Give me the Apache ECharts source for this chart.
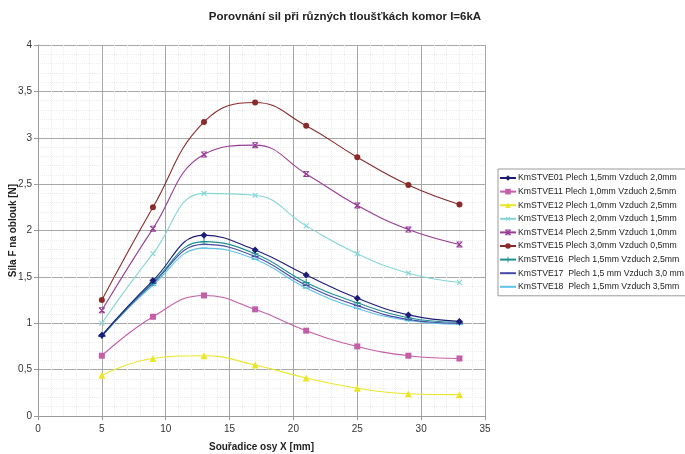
<!DOCTYPE html>
<html>
<head>
<meta charset="utf-8">
<script src="https://cdn.jsdelivr.net/npm/echarts@6/dist/echarts.min.js"></script>
<style>
html,body{margin:0;padding:0;background:#fff;}
#c{width:685px;height:454px;}
</style>
</head>
<body>
<div id="c"></div>
<script>
const xValues = [5, 9, 13, 17, 21, 25, 29, 33];
const seriesNames = [
  'KmSTVE01 Plech 1,5mm Vzduch 2,0mm',
  'KmSTVE11 Plech 1,0mm Vzduch 2,5mm',
  'KmSTVE12 Plech 1,0mm Vzduch 2,5mm',
  'KmSTVE13 Plech 2,0mm Vzduch 1,5mm',
  'KmSTVE14 Plech 2,5mm Vzduch 1,0mm',
  'KmSTVE15 Plech 3,0mm Vzduch 0,5mm',
  'KmSTVE16  Plech 1,5mm Vzduch 2,5mm',
  'KmSTVE17  Plech 1,5 mm Vzduch 3,0 mm',
  'KmSTVE18  Plech 1,5mm Vzduch 3,5mm'
];
const s01 = [0.87, 1.46, 1.95, 1.79, 1.52, 1.27, 1.09, 1.02];
const s11 = [0.65, 1.07, 1.30, 1.15, 0.92, 0.75, 0.65, 0.62];
const s12 = [0.44, 0.62, 0.65, 0.55, 0.41, 0.30, 0.24, 0.23];
const s13 = [1.00, 1.75, 2.40, 2.38, 2.05, 1.75, 1.54, 1.44];
const s14 = [1.14, 2.02, 2.82, 2.92, 2.61, 2.27, 2.01, 1.85];
const s15 = [1.25, 2.25, 3.17, 3.38, 3.13, 2.79, 2.49, 2.28];
const s16 = [0.87, 1.44, 1.88, 1.75, 1.44, 1.22, 1.06, 1.01];
const s17 = [0.86, 1.43, 1.85, 1.72, 1.41, 1.19, 1.04, 1.00];
const s18 = [0.86, 1.41, 1.81, 1.69, 1.38, 1.16, 1.03, 0.99];
const seriesValues = [s01, s11, s12, s13, s14, s15, s16, s17, s18];
const yTicks = [0, 0.5, 1, 1.5, 2, 2.5, 3, 3.5, 4];
const xTicks = [0, 5, 10, 15, 20, 25, 30, 35];

const colors = ['#1c1c78', '#c45ea8', '#ece62a', '#86d6d6', '#973c97', '#8b2a2a', '#1e9090', '#4a4aa8', '#5ec2e6'];
const plusPath = 'path://M4.2,0H5.8V4.2H10V5.8H5.8V10H4.2V5.8H0V4.2H4.2Z';
const starPath = 'path://M0,0H10V1.4H0Z M0,8.6H10V10H0Z M0,0L1.5,0L10,8.5L10,10L8.5,10L0,1.5Z M10,0L10,1.5L1.5,10L0,10L0,8.5L8.5,0Z';
const dashPath = 'path://M0,0h0.01v0.01h-0.01Z M0,4H10V6H0Z M9.99,9.99h0.01v0.01h-0.01Z';
const symbols = ['diamond', 'rect', 'triangle', plusPath, starPath, 'circle', plusPath, dashPath, dashPath];
const symbolSizes = [7, 6, 7, 7, 6, 6, 7, 7, 7];
const symbolRot = [0, 0, 0, 45, 0, 0, 0, 0, 0];

const chart = echarts.init(document.getElementById('c'), null, {renderer: 'canvas'});
const fmt = v => String(v).replace('.', ',');
const FONT = 'Liberation Sans, Arial, sans-serif';

const series = seriesNames.map((name, i) => ({
  name: name,
  type: 'line',
  smooth: 0.45,
  data: xValues.map((x, j) => [x, seriesValues[i][j]]),
  symbol: symbols[i],
  symbolSize: symbolSizes[i],
  symbolRotate: symbolRot[i],
  showAllSymbol: true,
  lineStyle: {color: colors[i], width: 1.1},
  itemStyle: {color: colors[i]},
  emphasis: {disabled: true},
  z: 10 - i
}));

chart.setOption({
  animation: false,
  backgroundColor: '#ffffff',
  title: {
    text: 'Porovnání sil při různých tloušťkách komor I=6kA',
    left: 340, top: 6, textAlign: 'center',
    textStyle: {fontFamily: FONT, fontSize: 11.5, fontWeight: 'bold', color: '#222'}
  },
  grid: {left: 38, right: 200, top: 45, bottom: 38, containLabel: false, outerBoundsMode: 'none'},
  legend: {
    orient: 'vertical',
    left: 498, top: 169,
    itemWidth: 16, itemHeight: 7, itemGap: 3.6,
    padding: [4, 3, 4, 1],
    borderColor: '#9a9a9a', borderWidth: 1,
    backgroundColor: '#fff',
    textStyle: {fontFamily: FONT, fontSize: 8.7, color: '#222', lineHeight: 10, padding: [0, 0, 0, -3]},
    data: seriesNames
  },
  xAxis: {
    type: 'value', min: 0, max: 35, interval: 5,
    name: 'Souřadice osy X [mm]', nameLocation: 'middle', nameGap: 26, nameMoveOverlap: false,
    nameTextStyle: {fontFamily: FONT, fontSize: 10, fontWeight: 'bold', color: '#222'},
    axisLine: {onZero: false, lineStyle: {color: '#999', width: 1}},
    axisTick: {show: true, length: 4, lineStyle: {color: '#999'}},
    axisLabel: {color: '#333', fontSize: 10, fontFamily: FONT, margin: 8,
      formatter: v => xTicks.includes(v) ? fmt(v) : ''},
    splitLine: {show: true, lineStyle: {color: '#a8a8a8', width: 1}},
    minorTick: {show: false, splitNumber: 5},
    minorSplitLine: {show: true, lineStyle: {color: '#ececec', width: 1, type: 'dotted'}}
  },
  yAxis: {
    type: 'value', min: 0, max: 4, interval: 0.5,
    name: 'Síla F na oblouk [N]', nameLocation: 'middle', nameGap: 20, nameMoveOverlap: false,
    nameTextStyle: {fontFamily: FONT, fontSize: 10, fontWeight: 'bold', color: '#222'},
    axisLine: {show: true, lineStyle: {color: '#999', width: 1}},
    axisTick: {show: true, length: 4, lineStyle: {color: '#999'}},
    axisLabel: {color: '#333', fontSize: 10, fontFamily: FONT, margin: 6,
      formatter: v => yTicks.includes(v) ? fmt(v) : ''},
    splitLine: {show: true, lineStyle: {color: '#a8a8a8', width: 1}},
    minorTick: {show: false, splitNumber: 5},
    minorSplitLine: {show: true, lineStyle: {color: '#ececec', width: 1, type: 'dotted'}}
  },
  series: series
});
</script>
</body>
</html>
